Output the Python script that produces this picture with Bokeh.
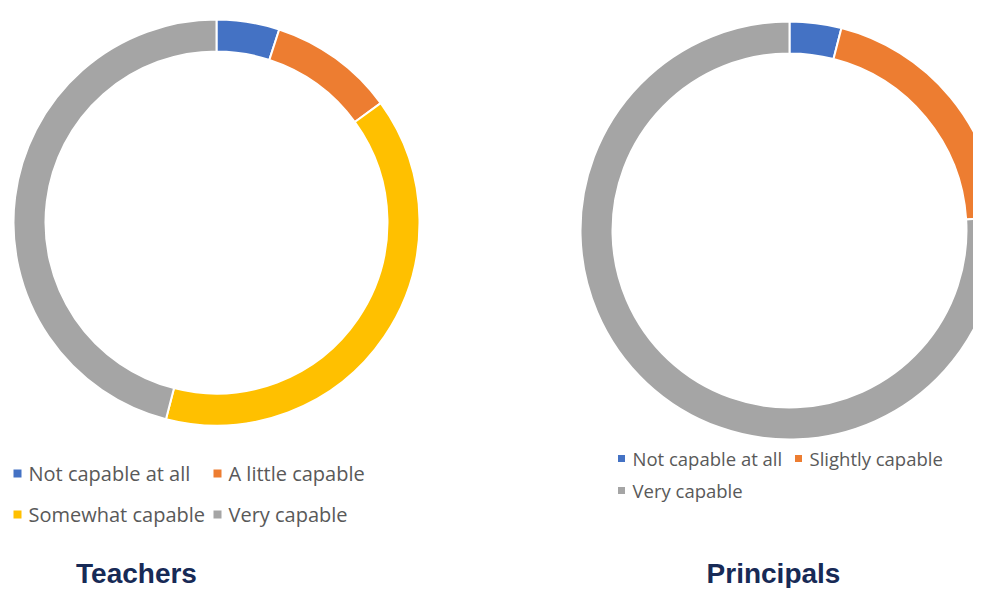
import numpy as np
from bokeh.plotting import figure
from bokeh.models import Range1d, ColumnDataSource
from bokeh.core.properties import value
from bokeh.embed import file_html
from bokeh.resources import INLINE

# ---- data ----
teacher_labels = ["Not capable at all", "A little capable", "Somewhat capable", "Very capable"]
teacher_values = [5, 10, 39, 46]
teacher_colors = ["#4472C4", "#ED7D31", "#FFC000", "#A5A5A5"]

principal_labels = ["Not capable at all", "Slightly capable", "Very capable"]
principal_values = [4, 20, 76]
principal_colors = ["#4472C4", "#ED7D31", "#A5A5A5"]

titles = ["Teachers", "Principals"]

W, H = 973, 588
p = figure(width=W, height=H, output_backend="svg", toolbar_location=None,
           x_range=Range1d(0, W), y_range=Range1d(0, H), min_border=0)
p.axis.visible = False
p.grid.visible = False
p.outline_line_color = None
p.background_fill_color = "white"


def Y(py):
    return H - py


def X(px):
    return px


def donut(vals, colors, cx, cy, r_out, r_in):
    v = np.array(vals, dtype=float)
    frac = v / v.sum()
    cum = np.concatenate([[0], np.cumsum(frac)])
    start = np.pi / 2 - 2 * np.pi * cum[1:]
    end = np.pi / 2 - 2 * np.pi * cum[:-1]
    src = ColumnDataSource(dict(x=[X(cx)] * len(v), y=[Y(cy)] * len(v),
                                start=start, end=end, color=colors))
    p.annular_wedge(x="x", y="y", inner_radius=r_in, outer_radius=r_out,
                    start_angle="start", end_angle="end", fill_color="color",
                    line_color="white", line_width=2, source=src)


donut(teacher_values, teacher_colors, 216, 222, 203, 171)
donut(principal_values, principal_colors, 789, 230, 209, 177)


def legend(labels, colors, positions, size, sq):
    xs = [X(px) for px, py in positions]
    ys = [Y(py) for px, py in positions]
    p.rect(x=xs, y=ys, width=sq, height=sq, fill_color=colors, line_color=None)
    p.text(x=[x + 11 for x in xs], y=ys, text=labels, text_font=value("Open Sans"),
           text_font_size=size, text_color="#595959", text_baseline="middle",
           text_align="left")


legend(teacher_labels, teacher_colors,
       [(17, 473), (217, 473), (17, 514), (217, 514)], "20px", 8)
legend(principal_labels, principal_colors,
       [(621, 458), (798, 458), (621, 490)], "18.5px", 7)

p.text(x=[X(136), X(773)], y=[Y(588), Y(588)], text=titles,
       text_font=value("Liberation Sans"), text_font_style="bold",
       text_font_size="28px", text_color="#172a56", text_align="center",
       text_baseline="bottom")

open("out.html", "w").write(file_html(p, INLINE))
